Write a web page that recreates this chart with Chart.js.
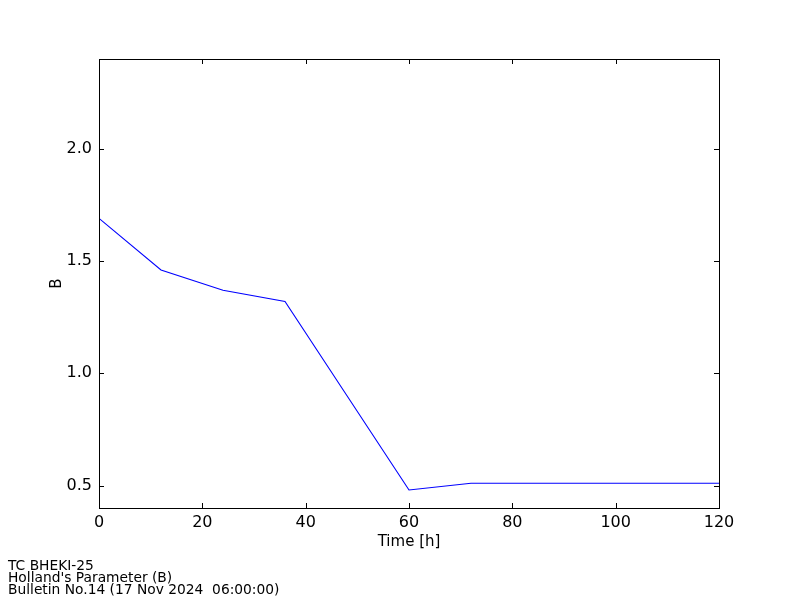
<!DOCTYPE html>
<html>
<head>
<meta charset="utf-8">
<script src="https://cdn.jsdelivr.net/npm/chart.js@4/dist/chart.umd.min.js"></script>
<style>
  html, body { margin: 0; padding: 0; background: #fff; }
  #wrap { position: relative; width: 800px; height: 600px; }
  #notes {
    position: absolute; left: 8px; top: 559px;
    font-family: "DejaVu Sans", sans-serif; font-size: 13.8px; line-height: 12px; color: #000;
  }
</style>
</head>
<body>
<div id="wrap">
  <canvas id="bChart" width="800" height="600"></canvas>
  <div id="notes">TC BHEKI-25<br>Holland's Parameter (B)<br>Bulletin No.14 (17 Nov 2024&nbsp; 06:00:00)</div>
</div>
<script>
// Holland B parameter vs forecast time
const hours = [0, 12, 24, 36, 48, 60, 72, 84, 96, 108, 120];
const bValues = [1.69, 1.46, 1.37, 1.32, 0.90, 0.48, 0.51, 0.51, 0.51, 0.51, 0.51];
const xTicks = [0, 20, 40, 60, 80, 100, 120];
const yTicks = [0.5, 1.0, 1.5, 2.0];

const FONT = 'DejaVu Sans';

// matplotlib style frame with inward ticks on all four sides
const frame = {
  id: 'frame',
  afterDatasetsDraw(chart) {
    const { ctx, chartArea: a, scales } = chart;
    const len = 5;
    ctx.save();
    ctx.strokeStyle = '#000';
    ctx.lineWidth = 1;
    ctx.beginPath();
    xTicks.forEach(v => {
      const x = Math.round(scales.x.getPixelForValue(v)) + 0.5;
      ctx.moveTo(x, a.bottom); ctx.lineTo(x, a.bottom - len);
      ctx.moveTo(x, a.top); ctx.lineTo(x, a.top + len);
    });
    yTicks.forEach(v => {
      const y = Math.round(scales.y.getPixelForValue(v)) + 0.5;
      ctx.moveTo(a.left, y); ctx.lineTo(a.left + len, y);
      ctx.moveTo(a.right, y); ctx.lineTo(a.right - len, y);
    });
    ctx.stroke();
    ctx.strokeRect(Math.round(a.left) + 0.5, Math.round(a.top) + 0.5,
      Math.round(a.right - a.left), Math.round(a.bottom - a.top));
    ctx.restore();
  }
};

new Chart(document.getElementById('bChart').getContext('2d'), {
  type: 'line',
  data: {
    datasets: [{
      label: 'B',
      data: hours.map((h, i) => ({ x: h, y: bValues[i] })),
      borderColor: '#0000ff',
      borderWidth: 1.1,
      pointRadius: 0,
      tension: 0,
      fill: false
    }]
  },
  options: {
    responsive: false,
    animation: false,
    layout: { padding: { left: 48, top: 59, right: 81, bottom: 45 } },
    plugins: {
      legend: { display: false },
      tooltip: { enabled: false }
    },
    scales: {
      x: {
        type: 'linear',
        min: 0,
        max: 120,
        afterBuildTicks: s => { s.ticks = xTicks.map(v => ({ value: v })); },
        afterFit: s => { s.height = 47; },
        grid: { display: false },
        border: { display: false },
        ticks: { padding: -3, color: '#000', font: { family: FONT, size: 16 } },
        title: { display: true, text: 'Time [h]', color: '#000', padding: { top: 0 }, font: { family: FONT, size: 15 } }
      },
      y: {
        min: 0.4,
        max: 2.4,
        afterBuildTicks: s => { s.ticks = yTicks.map(v => ({ value: v })); },
        afterFit: s => { s.width = 51; },
        grid: { display: false },
        border: { display: false },
        ticks: { padding: -1, color: '#000', font: { family: FONT, size: 16 }, callback: v => v.toFixed(1) },
        title: { display: true, text: 'B', color: '#000', padding: 0, font: { family: FONT, size: 15 } }
      }
    }
  },
  plugins: [frame]
});
</script>
</body>
</html>
